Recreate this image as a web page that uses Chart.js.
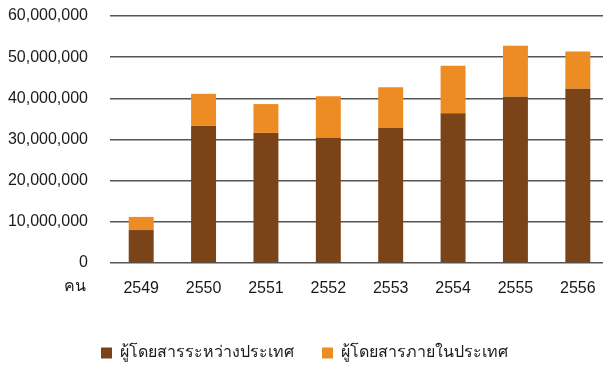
<!DOCTYPE html>
<html>
<head>
<meta charset="utf-8">
<script src="https://cdn.jsdelivr.net/npm/chart.js@4/dist/chart.umd.min.js"></script>
<style>
    body { margin: 0; background: #ffffff; overflow: hidden; }
    #wrap { width: 609px; height: 365px; }
</style>
</head>
<body>
<div id="wrap"><canvas id="myChart" width="609" height="365"></canvas></div>
<script>
// data (passengers per Thai year)
var years = ["2549", "2550", "2551", "2552", "2553", "2554", "2555", "2556"];
var international = [8000000, 33300000, 31600000, 30400000, 32800000, 36400000, 40400000, 42300000];
var domestic = [3200000, 7800000, 7000000, 10100000, 9900000, 11500000, 12400000, 9100000];
var seriesNames = ["ผู้โดยสารระหว่างประเทศ", "ผู้โดยสารภายในประเทศ"];
var unitLabel = "คน";

var barColors = ["#7a4318", "#ec8c22"];
var fontFamily = "'Liberation Sans', Arial, sans-serif";

// draws the unit label on the x tick row, left of the plot
var unitPlugin = {
    id: "unitLabel",
    afterDraw: function (chart) {
        let ctx = chart.ctx;
        let x = chart.scales.x;
        ctx.save();
        ctx.font = "16px " + fontFamily;
        ctx.fillStyle = "#1a1a1a";
        ctx.textAlign = "center";
        ctx.textBaseline = "middle";
        ctx.fillText(unitLabel, x.left - 35, x.top + 24);
        ctx.restore();
    }
};

new Chart("myChart", {
    type: "bar",
    data: {
        labels: years,
        datasets: [{
            label: seriesNames[0],
            data: international,
            backgroundColor: barColors[0]
        }, {
            label: seriesNames[1],
            data: domestic,
            backgroundColor: barColors[1]
        }]
    },
    options: {
        responsive: false,
        animation: false,
        layout: { padding: { top: 16, right: 0, left: 0, bottom: -6 } },
        categoryPercentage: 1,
        barPercentage: 0.4,
        scales: {
            x: {
                stacked: true,
                grid: { display: false },
                border: { display: false },
                ticks: { color: "#1a1a1a", font: { family: fontFamily, size: 16 }, padding: 8 },
                afterFit: function (scale) { scale.height = 54; }
            },
            y: {
                stacked: true,
                min: 0,
                max: 60000000,
                grid: { color: "#555", lineWidth: 1.5, drawTicks: false },
                border: { display: false },
                ticks: {
                    stepSize: 10000000,
                    color: "#1a1a1a",
                    padding: 22,
                    font: { family: fontFamily, size: 16 },
                    callback: function (v) { return v.toLocaleString("en-US"); }
                },
                afterFit: function (scale) {
                    scale.width = 110;
                    // tick padding would otherwise push the plot top down
                    scale.paddingTop = 0;
                    scale.paddingBottom = 0;
                }
            }
        },
        plugins: {
            legend: {
                position: "bottom",
                labels: {
                    boxWidth: 11,
                    boxHeight: 11,
                    padding: 28,
                    color: "#1a1a1a",
                    font: { family: fontFamily, size: 16 }
                }
            },
            tooltip: { enabled: false }
        }
    },
    plugins: [unitPlugin]
});
</script>
</body>
</html>
